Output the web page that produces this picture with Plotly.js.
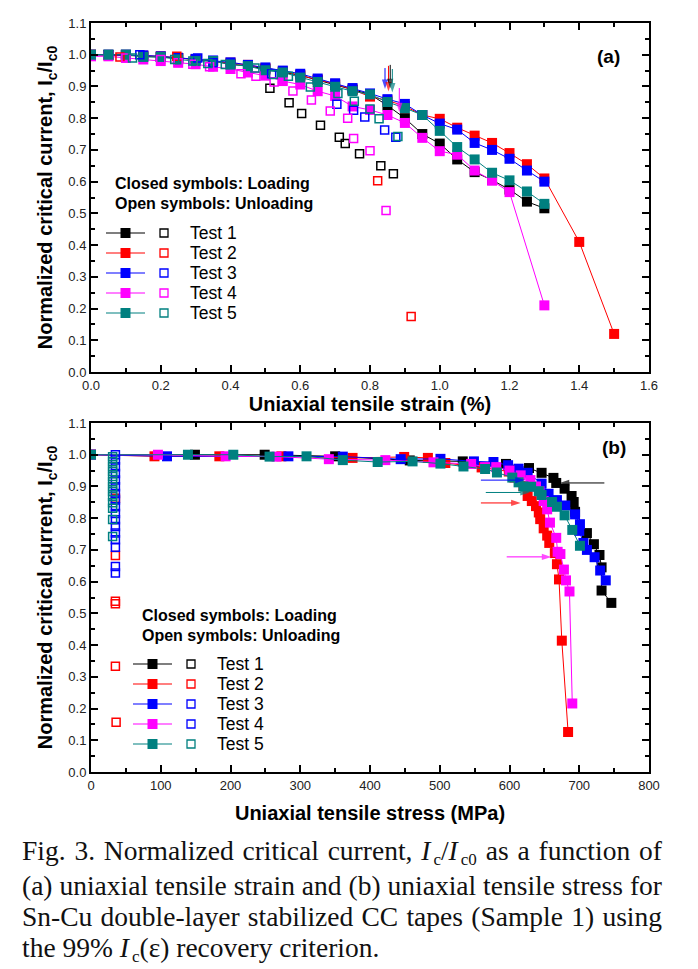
<!DOCTYPE html>
<html>
<head>
<meta charset="utf-8">
<script src="https://cdn.plot.ly/plotly-3.0.1.min.js"></script>
<style>
  html, body { margin:0; padding:0; background:#fff; }
  #wrap { position:relative; width:698px; height:969px; }
  #chart { position:absolute; left:0; top:0; width:698px; height:969px; }
  #caption { position:absolute; left:22px; top:835px; width:640px;
    font-family:"Liberation Serif","Times New Roman",serif; font-size:27.5px; line-height:31px; color:#111; }
  #caption .j { white-space:nowrap; display:flex; justify-content:space-between; }
  #caption .s { font-size:0.62em; position:relative; top:0.32em; margin-left:3px; }
  #caption i { padding-right:0px; }
</style>
</head>
<body>
<div id="wrap">
<div id="chart"></div>
<div id="caption">
  <div class="j"><span>Fig.</span><span>3.</span><span>Normalized</span><span>critical</span><span>current,</span><span><i>I</i><span class="s">c</span>/<i>I</i><span class="s">c0</span></span><span>as</span><span>a</span><span>function</span><span>of</span></div>
  <div class="j"><span>(a)</span><span>uniaxial</span><span>tensile</span><span>strain</span><span>and</span><span>(b)</span><span>uniaxial</span><span>tensile</span><span>stress</span><span>for</span></div>
  <div class="j"><span>Sn-Cu</span><span>double-layer</span><span>stabilized</span><span>CC</span><span>tapes</span><span>(Sample</span><span>1)</span><span>using</span></div>
  <div>the 99% <i>I</i><span class="s">c</span>(ε) recovery criterion.</div>
</div>
</div>
<script>
// ---------------- DATA ----------------
const testNames = ["Test 1", "Test 2", "Test 3", "Test 4", "Test 5"];
const testColors = ["#000000", "#ff0000", "#0000ff", "#ff00ff", "#008080"];
const bottomLegendOpenColors = ["#000000", "#ff0000", "#0000ff", "#0000ff", "#008080"];

// (a) strain (%) vs Ic/Ic0, loading (closed symbols)
const strainLoad1 = [0,0.05,0.1,0.15,0.2,0.25,0.3,0.35,0.4,0.45,0.5,0.55,0.6,0.65,0.7,0.75,0.8,0.85,0.9,0.95,1.0,1.05,1.1,1.15,1.2,1.25,1.3];
const icLoad1 = [1.0,1.0,1.0,0.995,0.993,0.99,0.985,0.98,0.97,0.965,0.955,0.945,0.935,0.92,0.905,0.89,0.875,0.84,0.80,0.75,0.72,0.67,0.63,0.605,0.575,0.537,0.516];
const strainLoad2 = [0,0.05,0.1,0.15,0.2,0.25,0.3,0.35,0.4,0.45,0.5,0.55,0.6,0.65,0.7,0.75,0.8,0.85,0.9,0.95,1.0,1.05,1.1,1.15,1.2,1.25,1.3,1.4,1.5];
const icLoad2 = [1.0,0.998,0.997,0.997,0.995,0.99,0.985,0.98,0.975,0.968,0.958,0.948,0.935,0.922,0.908,0.89,0.868,0.856,0.838,0.81,0.798,0.77,0.745,0.722,0.69,0.655,0.61,0.41,0.12];
const strainLoad3 = [0,0.05,0.1,0.15,0.2,0.25,0.3,0.35,0.4,0.45,0.5,0.55,0.6,0.65,0.7,0.75,0.8,0.85,0.9,0.95,1.0,1.05,1.1,1.15,1.2,1.25,1.3];
const icLoad3 = [1.0,1.0,1.0,0.998,0.995,0.99,0.987,0.982,0.976,0.968,0.96,0.95,0.94,0.925,0.91,0.895,0.878,0.86,0.845,0.81,0.783,0.764,0.722,0.70,0.672,0.635,0.60];
const strainLoad4 = [0,0.05,0.1,0.15,0.2,0.25,0.3,0.35,0.4,0.45,0.5,0.55,0.6,0.65,0.7,0.75,0.8,0.85,0.9,0.95,1.0,1.05,1.1,1.15,1.2,1.3];
const icLoad4 = [0.995,0.995,0.99,0.985,0.98,0.975,0.97,0.962,0.955,0.944,0.934,0.917,0.906,0.885,0.87,0.837,0.826,0.81,0.785,0.738,0.696,0.685,0.635,0.603,0.567,0.21];
const strainLoad5 = [0,0.05,0.1,0.15,0.2,0.25,0.3,0.35,0.4,0.45,0.5,0.55,0.6,0.65,0.7,0.75,0.8,0.85,0.9,0.95,1.0,1.05,1.1,1.15,1.2,1.25,1.3];
const icLoad5 = [1.0,1.0,1.0,0.993,0.993,0.985,0.98,0.98,0.969,0.964,0.951,0.944,0.928,0.914,0.899,0.885,0.875,0.851,0.832,0.81,0.76,0.709,0.67,0.628,0.604,0.569,0.53];

// (a) unloading (open symbols)
const strainUnload1 = [0.513,0.568,0.604,0.658,0.712,0.729,0.77,0.831,0.867];
const icUnload1 = [0.894,0.849,0.815,0.778,0.74,0.72,0.688,0.65,0.625];
const strainUnload2 = [0.083,0.246,0.822,0.918];
const icUnload2 = [0.993,0.995,0.603,0.175];
const strainUnload3 = [0.14,0.306,0.35,0.518,0.705,0.753,0.785,0.842,0.874];
const icUnload3 = [1.0,0.99,0.975,0.94,0.844,0.825,0.804,0.763,0.74];
const strainUnload4 = [0.1,0.2,0.25,0.292,0.34,0.43,0.473,0.525,0.579,0.632,0.686,0.736,0.753,0.80,0.846];
const icUnload4 = [0.99,0.985,0.975,0.97,0.962,0.94,0.932,0.914,0.886,0.857,0.823,0.80,0.736,0.697,0.509];
const strainUnload5 = [0.119,0.24,0.292,0.335,0.385,0.47,0.523,0.566,0.629,0.708,0.755,0.80,0.826,0.88];
const icUnload5 = [0.99,0.985,0.98,0.972,0.969,0.958,0.938,0.932,0.898,0.878,0.853,0.829,0.798,0.742];

// (b) stress (MPa) vs Ic/Ic0, loading
const stressLoad1 = [0,149,249,350,457,533,595,628,646,663,667,679,689,692,694,711,721,729,732,732,746];
const icSLoad1 = [1.0,1.0,1.0,0.995,0.982,0.979,0.971,0.958,0.943,0.927,0.911,0.893,0.87,0.851,0.82,0.753,0.718,0.684,0.645,0.572,0.533];
const stressLoad2 = [0,91,184,273,375,449,483,508,560,599,607,620,626,632,638,642,644,649,654,657,665,668,671,675,684];
const icSLoad2 = [1.0,0.995,0.995,0.995,0.99,0.993,0.99,0.974,0.96,0.947,0.928,0.901,0.87,0.854,0.838,0.818,0.797,0.768,0.745,0.722,0.69,0.655,0.607,0.414,0.126];
const stressLoad3 = [0,109,283,361,444,501,549,577,598,613,626,646,656,668,680,694,701,700,706,711,722,730,738];
const icSLoad3 = [1.0,0.995,0.995,0.994,0.986,0.987,0.979,0.977,0.967,0.956,0.943,0.909,0.877,0.857,0.84,0.812,0.781,0.76,0.722,0.70,0.677,0.635,0.604];
const stressLoad4 = [0,96,193,266,341,422,491,545,565,581,600,616,630,638,643,649,654,658,667,669,673,678,681,686,690];
const icSLoad4 = [1.0,1.0,0.995,0.994,0.986,0.983,0.976,0.971,0.961,0.961,0.95,0.935,0.92,0.90,0.885,0.854,0.828,0.786,0.738,0.694,0.687,0.638,0.604,0.569,0.216];
const stressLoad5 = [0,139,204,256,309,361,411,461,501,534,565,582,604,613,620,631,642,646,661,668,679,690,701];
const icSLoad5 = [1.0,1.0,1.0,0.994,0.995,0.983,0.977,0.979,0.972,0.963,0.955,0.944,0.928,0.913,0.90,0.899,0.885,0.873,0.851,0.836,0.809,0.763,0.713];

// (b) unloading
const stressUnload2 = [35,35,35,35,35,36];
const icSUnload2 = [0.863,0.682,0.538,0.53,0.333,0.157];
const stressUnload3 = [35,35,35,35,35,35,35,35,35,35,35,35,35,35,35,35,35];
const icSUnload3 = [1.0,0.983,0.962,0.941,0.92,0.899,0.878,0.857,0.836,0.815,0.795,0.774,0.753,0.732,0.708,0.648,0.627];
const stressUnload5 = [31,31,31,31,31,31,31,31,31,31,31,31,31];
const icSUnload5 = [0.994,0.978,0.962,0.947,0.931,0.915,0.899,0.884,0.868,0.849,0.831,0.796,0.742];

// arrows marking the 99% recovery limit (tail -> head)
const arrowAx = [0.843, 0.853, 0.858, 0.864, 0.884];
const arrowAyTail = [0.958, 0.965, 0.968, 0.955, 0.895];
const arrowAyHead = [0.892, 0.884, 0.894, 0.881, 0.819];
const arrowAColors = ["#0000ff", "#ff0000", "#000000", "#008080", "#ff00ff"];
const arrowBxTail = [736, 559, 566, 559, 596];
const arrowBxHead = [672, 622, 629, 616, 660];
const arrowBy = [0.911, 0.920, 0.881, 0.848, 0.678];
const arrowBColors = ["#000000", "#0000ff", "#008080", "#ff0000", "#ff00ff"];

// ---------------- FIGURE ----------------
const W = 698, H = 969;
const M = {l:91, r:49, t:23, b:197};
const PW = W - M.l - M.r, PH = H - M.t - M.b;
const px2x = p => (p - M.l) / PW;
const px2y = p => (H - M.b - p) / PH;

const FONT = "Liberation Sans, Arial, sans-serif";
const loadX = [strainLoad1, strainLoad2, strainLoad3, strainLoad4, strainLoad5];
const loadY = [icLoad1, icLoad2, icLoad3, icLoad4, icLoad5];
const unX = [strainUnload1, strainUnload2, strainUnload3, strainUnload4, strainUnload5];
const unY = [icUnload1, icUnload2, icUnload3, icUnload4, icUnload5];
const sLoadX = [stressLoad1, stressLoad2, stressLoad3, stressLoad4, stressLoad5];
const sLoadY = [icSLoad1, icSLoad2, icSLoad3, icSLoad4, icSLoad5];
const sUnX = [null, stressUnload2, stressUnload3, null, stressUnload5];
const sUnY = [null, icSUnload2, icSUnload3, null, icSUnload5];

const traces = [];
for (let i = 0; i < 5; i++) {
  traces.push({x: loadX[i], y: loadY[i], xaxis:'x', yaxis:'y', mode:'lines+markers', name: testNames[i] + ' loading',
    line:{color:testColors[i], width:1}, marker:{symbol:'square', size:10, color:testColors[i]}, showlegend:false});
}
for (let i = 0; i < 5; i++) {
  traces.push({x: unX[i], y: unY[i], xaxis:'x', yaxis:'y', mode:'markers', name: testNames[i] + ' unloading',
    marker:{symbol:'square-open', size:8, color:testColors[i], line:{width:1.5, color:testColors[i]}}, showlegend:false});
}
for (let i = 0; i < 5; i++) {
  traces.push({x: sLoadX[i], y: sLoadY[i], xaxis:'x2', yaxis:'y2', mode:'lines+markers', name: testNames[i] + ' loading',
    line:{color:testColors[i], width:1}, marker:{symbol:'square', size:10, color:testColors[i]}, showlegend:false});
}
for (let i = 0; i < 5; i++) {
  if (!sUnX[i]) continue;
  traces.push({x: sUnX[i], y: sUnY[i], xaxis:'x2', yaxis:'y2', mode:'markers', name: testNames[i] + ' unloading',
    marker:{symbol:'square-open', size:8, color:testColors[i], line:{width:1.5, color:testColors[i]}}, showlegend:false});
}
// arrows as two-point traces with an arrow marker at the head
for (let i = 0; i < arrowAx.length; i++) {
  traces.push({x:[arrowAx[i], arrowAx[i]], y:[arrowAyTail[i], arrowAyHead[i]], xaxis:'x', yaxis:'y', mode:'lines+markers',
    line:{color:arrowAColors[i], width:1}, marker:{symbol:'arrow', angleref:'previous', size:[0, 10], color:arrowAColors[i], line:{width:0}},
    showlegend:false, hoverinfo:'skip'});
}
for (let i = 0; i < arrowBy.length; i++) {
  traces.push({x:[arrowBxTail[i], arrowBxHead[i]], y:[arrowBy[i], arrowBy[i]], xaxis:'x2', yaxis:'y2', mode:'lines+markers',
    line:{color:arrowBColors[i], width:1}, marker:{symbol:'arrow', angleref:'previous', size:[0, 10], color:arrowBColors[i], line:{width:0}},
    showlegend:false, hoverinfo:'skip'});
}

const axisCommon = {
  showline:true, linewidth:2, linecolor:'#000', mirror:'allticks', ticks:'inside', ticklen:7, tickwidth:2, tickcolor:'#000',
  showgrid:false, zeroline:false, tickfont:{family:FONT, size:13, color:'#222'}
};
const yTitle = {text:'<b>Normalized critical current, I<sub>c</sub>/I<sub>c0</sub></b>', font:{family:FONT, size:20, color:'#000'}, standoff:10};

const layout = {
  width:W, height:H, margin:M, paper_bgcolor:'#fff', plot_bgcolor:'#fff', showlegend:false,
  xaxis: Object.assign({}, axisCommon, {domain:[0,1], anchor:'y', range:[0,1.6], tick0:0, dtick:0.2, tickformat:'.1f',
    minor:{ticks:'inside', dtick:0.1, ticklen:4, tickwidth:2, tickcolor:'#000'},
    title:{text:'<b>Uniaxial tensile strain (%)</b>', font:{family:FONT, size:20, color:'#000'}, standoff:5}}),
  yaxis: Object.assign({}, axisCommon, {domain:[px2y(372),1], anchor:'x', range:[0,1.1], tick0:0, dtick:0.1, tickformat:'.1f',
    minor:{ticks:'inside', dtick:0.05, ticklen:4, tickwidth:2, tickcolor:'#000'}, title:yTitle}),
  xaxis2: Object.assign({}, axisCommon, {domain:[0,1], anchor:'y2', range:[0,800], tick0:0, dtick:100,
    minor:{ticks:'inside', dtick:50, ticklen:4, tickwidth:2, tickcolor:'#000'},
    title:{text:'<b>Uniaxial tensile stress (MPa)</b>', font:{family:FONT, size:20, color:'#000'}, standoff:14}}),
  yaxis2: Object.assign({}, axisCommon, {domain:[0,px2y(423)], anchor:'x2', range:[0,1.1], tick0:0, dtick:0.1, tickformat:'.1f',
    minor:{ticks:'inside', dtick:0.05, ticklen:4, tickwidth:2, tickcolor:'#000'}, title:yTitle}),
  annotations: [], shapes: []
};

const ann = layout.annotations, shp = layout.shapes;
// panel labels
ann.push({xref:'paper', yref:'paper', x:px2x(622), y:px2y(44), text:'<b>(a)</b>', showarrow:false, font:{family:FONT, size:19, color:'#000'}});
ann.push({xref:'paper', yref:'paper', x:px2x(628), y:px2y(447), text:'<b>(b)</b>', showarrow:false, font:{family:FONT, size:19, color:'#000'}});

// legend blocks
function legendBlock(textX, textY1, rowY0, lineX0, openColors) {
  ann.push({xref:'paper', yref:'paper', x:px2x(textX), y:px2y(textY1), xanchor:'left', yanchor:'middle', text:'<b>Closed symbols: Loading</b>', showarrow:false, font:{family:FONT, size:16, color:'#000'}});
  ann.push({xref:'paper', yref:'paper', x:px2x(textX), y:px2y(textY1 + 20), xanchor:'left', yanchor:'middle', text:'<b>Open symbols: Unloading</b>', showarrow:false, font:{family:FONT, size:16, color:'#000'}});
  for (let i = 0; i < 5; i++) {
    const yc = rowY0 + 20 * i;
    shp.push({type:'line', xref:'paper', yref:'paper', x0:px2x(lineX0), x1:px2x(lineX0 + 39), y0:px2y(yc), y1:px2y(yc), line:{color:testColors[i], width:1.2}});
    const cx = lineX0 + 19.5;
    shp.push({type:'rect', xref:'paper', yref:'paper', x0:px2x(cx - 5), x1:px2x(cx + 5), y0:px2y(yc - 5), y1:px2y(yc + 5), fillcolor:testColors[i], line:{width:0}});
    const ox = lineX0 + 58;
    shp.push({type:'rect', xref:'paper', yref:'paper', x0:px2x(ox - 4), x1:px2x(ox + 4), y0:px2y(yc - 4), y1:px2y(yc + 4), fillcolor:'rgba(0,0,0,0)', line:{color:openColors[i], width:1.3}});
    ann.push({xref:'paper', yref:'paper', x:px2x(lineX0 + 82), y:px2y(yc), xanchor:'left', yanchor:'middle', text:testNames[i], showarrow:false, font:{family:FONT, size:17.5, color:'#000'}});
  }
}
legendBlock(113, 183, 233, 106, testColors);
legendBlock(140, 615, 664, 133, bottomLegendOpenColors);

Plotly.newPlot('chart', traces, layout, {staticPlot:true, displayModeBar:false});
</script>
</body>
</html>
